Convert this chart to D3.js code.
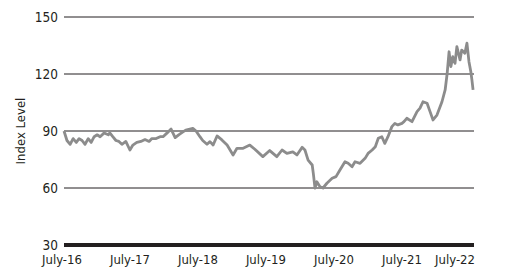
<!DOCTYPE html>
<html>
<head>
<meta charset="utf-8">
<script src="https://cdn.jsdelivr.net/npm/d3@7"></script>
<style>
  body { margin: 0; background: #fff; }
  text { font-family: "Liberation Sans Narrow", "DejaVu Sans Condensed", "Liberation Sans", sans-serif; fill: #231f20; }
</style>
</head>
<body>
<div id="chart"></div>
<script>
// Data
const dates = [
  "2016-07-01","2016-07-17","2016-08-03","2016-08-19","2016-09-05","2016-09-20","2016-10-06","2016-10-22",
  "2016-11-08","2016-11-24","2016-12-10","2016-12-26","2017-01-11","2017-02-02","2017-02-24","2017-03-04",
  "2017-03-20","2017-04-06","2017-04-22","2017-05-08","2017-05-29","2017-06-20","2017-07-06","2017-07-27",
  "2017-08-18","2017-09-09","2017-10-01","2017-10-16","2017-11-08","2017-11-29","2017-12-15","2018-01-06",
  "2018-01-27","2018-02-18","2018-03-09","2018-04-01","2018-04-16","2018-05-24","2018-06-10","2018-07-01",
  "2018-07-16","2018-08-08","2018-08-24","2018-09-10","2018-10-01","2018-10-27","2018-11-24","2018-12-26",
  "2019-01-16","2019-02-18","2019-03-26","2019-04-22","2019-06-04","2019-07-11","2019-08-18","2019-09-15",
  "2019-10-11","2019-11-12","2019-12-04","2020-01-01","2020-01-16","2020-02-02","2020-02-24","2020-03-01",
  "2020-03-10","2020-03-20","2020-04-06","2020-04-22","2020-05-13","2020-06-10","2020-07-01","2020-07-22",
  "2020-08-18","2020-09-04","2020-09-25","2020-10-11","2020-11-07","2020-12-04","2020-12-20","2021-01-11",
  "2021-01-28","2021-02-13","2021-03-04","2021-03-20","2021-04-06","2021-04-27","2021-05-13","2021-05-29",
  "2021-06-20","2021-07-01","2021-07-16","2021-08-13","2021-09-09","2021-09-25","2021-10-11","2021-11-02",
  "2021-11-18","2021-12-04","2021-12-25","2022-01-21","2022-02-07","2022-02-18","2022-02-28","2022-03-10",
  "2022-03-20","2022-04-01","2022-04-11","2022-04-28","2022-05-07","2022-05-24","2022-06-04","2022-06-15",
  "2022-06-25","2022-07-01","2022-07-07"
];
const indexLevel = [
  90,85,83,86,84,86,85,83,
  86,84,87,88,87,89,88,89,
  87,85,84.5,83,84.5,80,82.6,84,
  84.5,85.5,84.5,86,86,87,87,89,
  91,86.5,88,89.5,90.5,91.4,90,87,
  85,83,84.4,82.6,87.4,85.3,82.6,77.4,
  80.9,80.9,82.6,80.4,76.5,79.7,76.5,80,
  78.2,79,77.4,81.4,80,74.7,72.1,67.7,
  60,63.3,60.7,60,62.5,65.1,66,69.5,
  73.8,73,71.2,73.8,73,75.6,78.2,80,
  81.7,86.2,87,83.5,87,92.3,94,93.2,
  94,94.9,96.7,94.9,100.2,102,105.4,104.6,
  100.2,95.8,98.4,105.4,111.6,120.4,131.7,123.9,
  129.1,125.6,134.4,127.4,132.6,130.9,136.2,126.5,
  121.2,116.8,111.6
];
const yTicks = [30, 60, 90, 120, 150];
const xTickLabels = ["July-16","July-17","July-18","July-19","July-20","July-21","July-22"];
const xTickDates = ["2016-07-01","2017-07-01","2018-07-01","2019-07-01","2020-07-01","2021-07-01","2022-07-01"];

const parse = d3.timeParse("%Y-%m-%d");
const data = dates.map((d, i) => ({ date: parse(d), value: indexLevel[i] }));

// SVG size
const width = 507;
const height = 278;
const margin = { top: 17, right: 33, bottom: 33, left: 64 };

const svg = d3.select("#chart")
  .append("svg")
  .attr("width", width)
  .attr("height", height);

// Scales
const x = d3.scaleTime()
  .domain([parse("2016-07-01"), parse("2022-07-12")])
  .range([margin.left, width - margin.right]);

const y = d3.scaleLinear()
  .domain([30, 150])
  .range([height - margin.bottom, margin.top]);

// Gridlines
svg.append("g")
  .selectAll("line")
  .data(yTicks.filter(d => d > 30))
  .enter()
  .append("line")
  .attr("x1", margin.left)
  .attr("x2", width - margin.right)
  .attr("y1", d => y(d))
  .attr("y2", d => y(d))
  .attr("stroke", "#231f20")
  .attr("stroke-width", 1);

// Y labels
svg.append("g")
  .selectAll("text")
  .data(yTicks)
  .enter()
  .append("text")
  .attr("x", margin.left - 6)
  .attr("y", d => y(d))
  .attr("dy", "0.34em")
  .attr("text-anchor", "end")
  .attr("font-size", 13.5)
  .text(d => d);

svg.append("text")
  .attr("transform", `translate(25, ${y(90)}) rotate(-90)`)
  .attr("text-anchor", "middle")
  .attr("font-size", 13)
  .text("Index Level");

// Line
const line = d3.line()
  .x(d => x(d.date))
  .y(d => y(d.value));

svg.append("path")
  .datum(data)
  .attr("fill", "none")
  .attr("stroke", "#8c8c8c")
  .attr("stroke-width", 2.8)
  .attr("stroke-linejoin", "round")
  .attr("d", line);

// Base axis
svg.append("line")
  .attr("x1", margin.left)
  .attr("x2", width - margin.right)
  .attr("y1", y(30))
  .attr("y2", y(30))
  .attr("stroke", "#231f20")
  .attr("stroke-width", 4);

// X labels
svg.append("g")
  .selectAll("text")
  .data(xTickLabels)
  .enter()
  .append("text")
  .attr("x", (d, i) => i === xTickLabels.length - 1 ? width - margin.right + 1 : x(parse(xTickDates[i])) - 2)
  .attr("y", y(30) + 19)
  .attr("text-anchor", (d, i) => i === xTickLabels.length - 1 ? "end" : "middle")
  .attr("font-size", 13)
  .text(d => d);
</script>
</body>
</html>
